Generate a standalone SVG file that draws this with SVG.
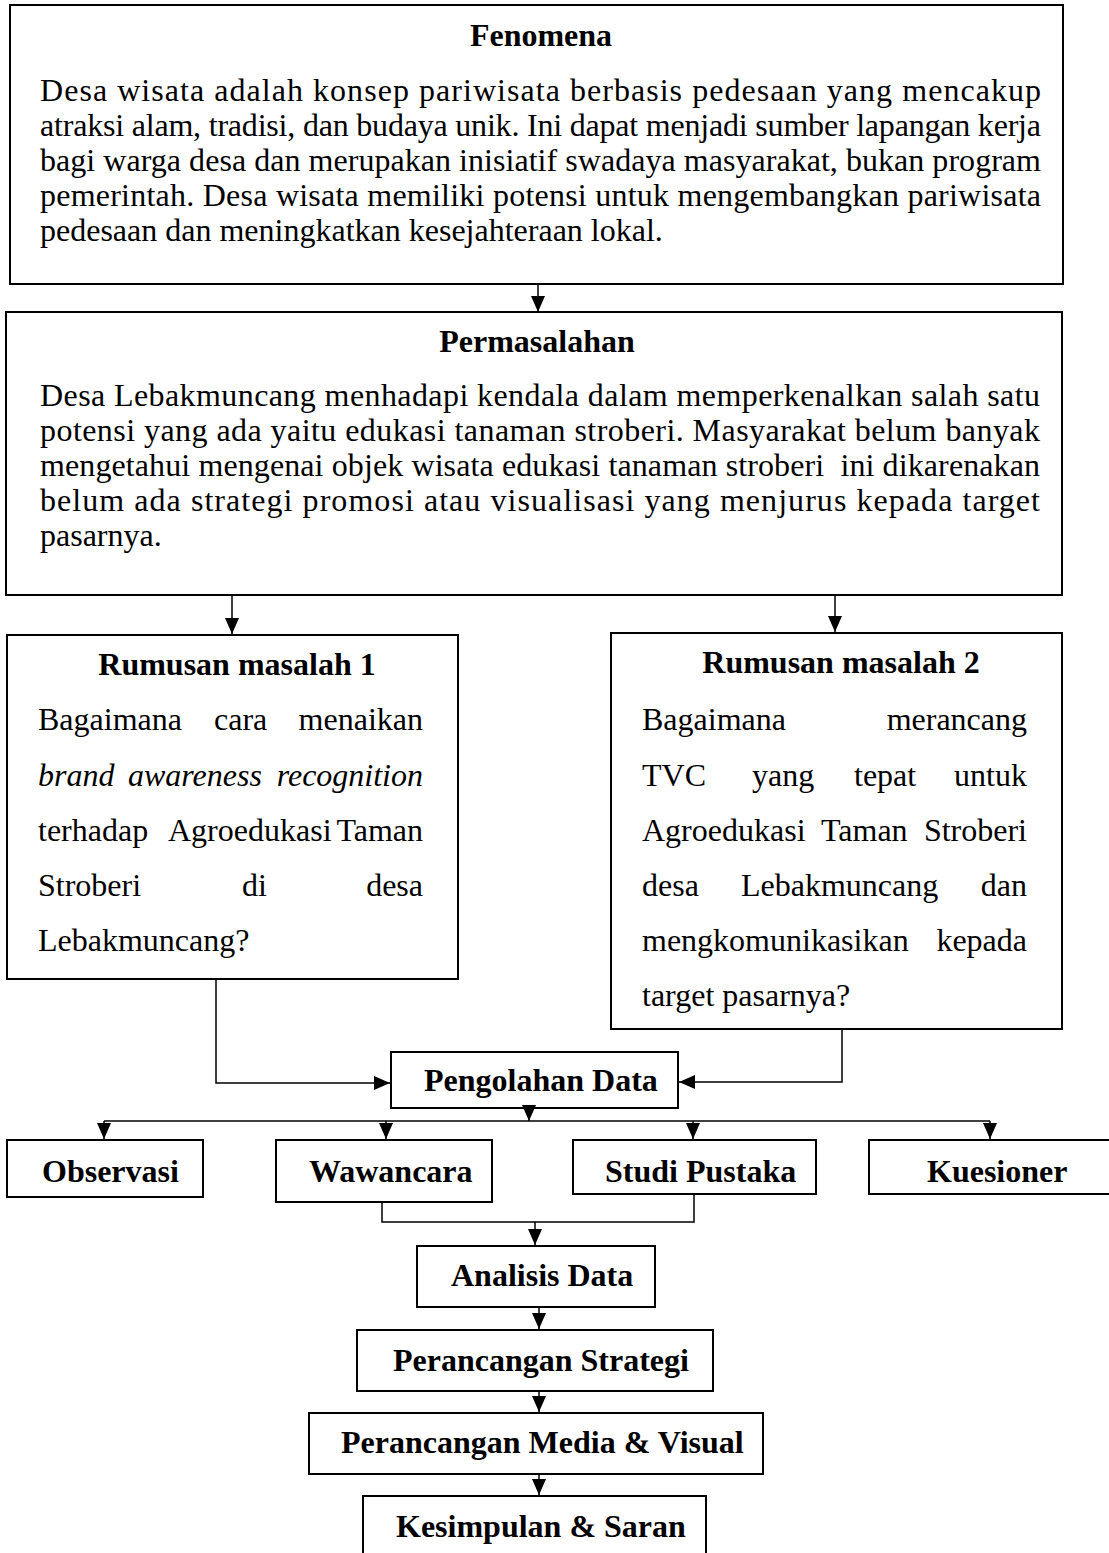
<svg xmlns="http://www.w3.org/2000/svg" width="1109" height="1553" viewBox="0 0 1109 1553">
<style>
.box{fill:#fff;stroke:#000;stroke-width:2}
.t{font-family:"Liberation Serif","Times New Roman",serif;font-size:32px;fill:#000}
.b{font-weight:bold}
.c{text-anchor:middle}
.e{text-anchor:end}
.i{font-style:italic}
.ln{fill:none;stroke:#000;stroke-width:1.5}
.ar{marker-end:url(#ah)}
</style>
<defs>
<marker id="ah" viewBox="0 0 16 14" refX="16" refY="7" markerWidth="16" markerHeight="14" markerUnits="userSpaceOnUse" orient="auto">
<path d="M0,0 L16,7 L0,14 z" fill="#000"/>
</marker>
</defs>
<rect width="1109" height="1553" fill="#fff"/>

<g id="fenomena">
<rect class="box" x="10" y="5" width="1053" height="279"/>
<text class="t b c" x="541" y="46">Fenomena</text>
<text class="t" x="40" y="101" textLength="1001" lengthAdjust="spacing">Desa wisata adalah konsep pariwisata berbasis pedesaan yang mencakup</text>
<text class="t" x="40" y="136" textLength="1001" lengthAdjust="spacing">atraksi alam, tradisi, dan budaya unik. Ini dapat menjadi sumber lapangan kerja</text>
<text class="t" x="40" y="171" textLength="1001" lengthAdjust="spacing">bagi warga desa dan merupakan inisiatif swadaya masyarakat, bukan program</text>
<text class="t" x="40" y="206" textLength="1001" lengthAdjust="spacing">pemerintah. Desa wisata memiliki potensi untuk mengembangkan pariwisata</text>
<text class="t" x="40" y="241">pedesaan dan meningkatkan kesejahteraan lokal.</text>
</g>

<g id="permasalahan">
<rect class="box" x="6" y="312" width="1056" height="283"/>
<text class="t b c" x="537" y="352">Permasalahan</text>
<text class="t" x="40" y="406" textLength="1000" lengthAdjust="spacing">Desa Lebakmuncang menhadapi kendala dalam memperkenalkan salah satu</text>
<text class="t" x="40" y="441" textLength="1000" lengthAdjust="spacing">potensi yang ada yaitu edukasi tanaman stroberi. Masyarakat belum banyak</text>
<text class="t" x="40" y="476" textLength="1000" lengthAdjust="spacing" xml:space="preserve">mengetahui mengenai objek wisata edukasi tanaman stroberi  ini dikarenakan</text>
<text class="t" x="40" y="511" textLength="1000" lengthAdjust="spacing">belum ada strategi promosi atau visualisasi yang menjurus kepada target</text>
<text class="t" x="40" y="546">pasarnya.</text>
</g>

<g id="rumusan1">
<rect class="box" x="7" y="635" width="451" height="344"/>
<text class="t b c" x="237" y="675">Rumusan masalah 1</text>
<text class="t" y="730"><tspan x="38">Bagaimana</tspan><tspan x="214">cara</tspan></text>
<text class="t e" x="423" y="730">menaikan</text>
<text class="t i" y="786"><tspan x="38">brand</tspan><tspan x="128">awareness</tspan></text>
<text class="t i e" x="423" y="786">recognition</text>
<text class="t" y="841"><tspan x="38">terhadap</tspan><tspan x="168">Agroedukasi</tspan></text>
<text class="t e" x="423" y="841">Taman</text>
<text class="t" y="896"><tspan x="38">Stroberi</tspan><tspan x="242">di</tspan></text>
<text class="t e" x="423" y="896">desa</text>
<text class="t" x="38" y="951">Lebakmuncang?</text>
</g>

<g id="rumusan2">
<rect class="box" x="611" y="633" width="451" height="396"/>
<text class="t b c" x="841" y="673">Rumusan masalah 2</text>
<text class="t" x="642" y="730">Bagaimana</text>
<text class="t e" x="1027" y="730">merancang</text>
<text class="t" y="786"><tspan x="642">TVC</tspan><tspan x="752">yang</tspan><tspan x="854">tepat</tspan></text>
<text class="t e" x="1027" y="786">untuk</text>
<text class="t" y="841"><tspan x="642">Agroedukasi</tspan><tspan x="821">Taman</tspan></text>
<text class="t e" x="1027" y="841">Stroberi</text>
<text class="t" y="896"><tspan x="642">desa</tspan><tspan x="741">Lebakmuncang</tspan></text>
<text class="t e" x="1027" y="896">dan</text>
<text class="t" x="642" y="951">mengkomunikasikan</text>
<text class="t e" x="1027" y="951">kepada</text>
<text class="t" x="642" y="1006">target pasarnya?</text>
</g>

<g id="pengolahan">
<rect class="box" x="391" y="1052" width="287" height="56"/>
<text class="t b" x="424" y="1091">Pengolahan Data</text>
</g>

<g id="observasi">
<rect class="box" x="7" y="1140" width="196" height="57"/>
<text class="t b" x="42" y="1182">Observasi</text>
</g>

<g id="wawancara">
<rect class="box" x="276" y="1140" width="216" height="62"/>
<text class="t b" x="309" y="1182">Wawancara</text>
</g>

<g id="studi-pustaka">
<rect class="box" x="573" y="1140" width="243" height="54"/>
<text class="t b" x="605" y="1182">Studi Pustaka</text>
</g>

<g id="kuesioner">
<rect class="box" x="869" y="1140" width="245" height="54"/>
<text class="t b" x="927" y="1182">Kuesioner</text>
</g>

<g id="analisis-data">
<rect class="box" x="417" y="1246" width="238" height="61"/>
<text class="t b" x="451" y="1286">Analisis Data</text>
</g>

<g id="perancangan-strategi">
<rect class="box" x="357" y="1330" width="356" height="61"/>
<text class="t b" x="393" y="1371">Perancangan Strategi</text>
</g>

<g id="perancangan-media">
<rect class="box" x="309" y="1413" width="454" height="61"/>
<text class="t b" x="341" y="1453">Perancangan Media &amp; Visual</text>
</g>

<g id="kesimpulan">
<rect class="box" x="363" y="1496" width="343" height="70"/>
<text class="t b" x="396" y="1537">Kesimpulan &amp; Saran</text>
</g>

<g id="connectors">
<path class="ln ar" d="M538,285 V312"/>
<path class="ln ar" d="M232,596 V634"/>
<path class="ln ar" d="M835,596 V632"/>
<path class="ln ar" d="M216,980 V1083 H390"/>
<path class="ln ar" d="M842,1030 V1082 H679"/>
<path class="ln ar" d="M529,1105 V1121"/>
<path class="ln" d="M104,1121 H990"/>
<path class="ln ar" d="M104,1121 V1139"/>
<path class="ln ar" d="M386,1121 V1139"/>
<path class="ln ar" d="M693,1121 V1139"/>
<path class="ln ar" d="M990,1121 V1139"/>
<path class="ln" d="M382,1203 V1222 H694 V1195"/>
<path class="ln ar" d="M535,1222 V1245"/>
<path class="ln ar" d="M539,1308 V1329"/>
<path class="ln ar" d="M539,1392 V1412"/>
<path class="ln ar" d="M539,1475 V1495"/>
</g>
</svg>
